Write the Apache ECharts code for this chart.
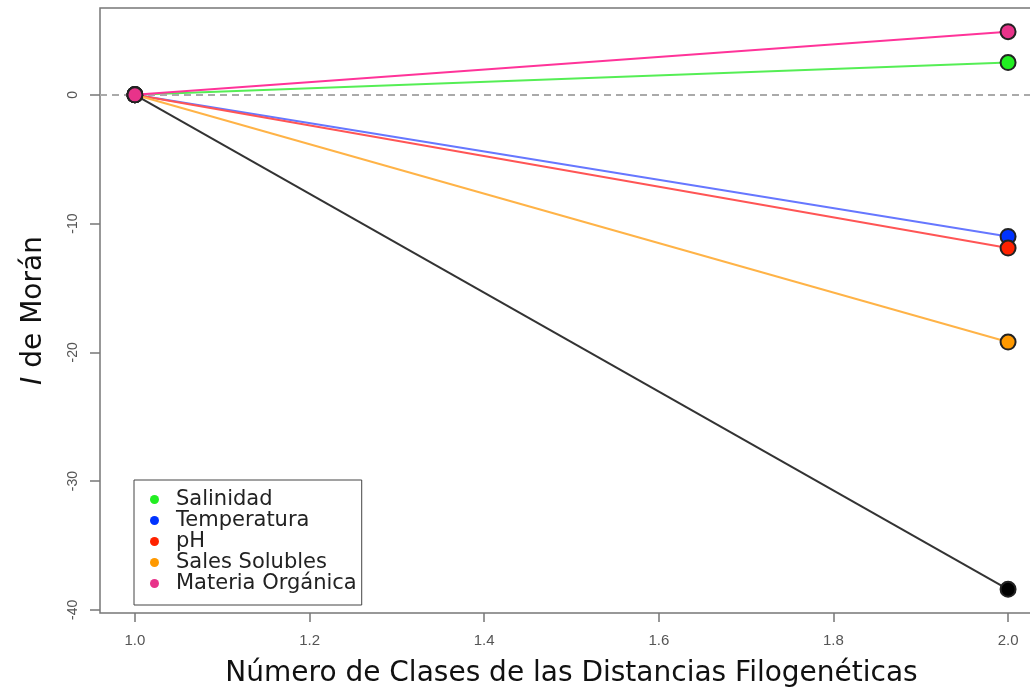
<!DOCTYPE html>
<html>
<head>
<meta charset="utf-8">
<script src="https://cdn.jsdelivr.net/npm/echarts@6/dist/echarts.min.js"></script>
<style>
  html, body { margin: 0; padding: 0; background: #fff; }
  #chart { width: 1030px; height: 692px; }
</style>
</head>
<body>
<div id="chart"></div>
<script>
// Distance classes on the x axis
const classes = [1.0, 2.0];

// Moran's I per variable at each class
const salinidad = [0, 2.5];
const temperatura = [0, -11.0];
const ph = [0, -11.9];
const salesSolubles = [0, -19.2];
const materiaOrganica = [0, 4.9];
const conjunto = [0, -38.4];

// Tick positions
const xTicks = [1.0, 1.2, 1.4, 1.6, 1.8, 2.0];
const yTicks = [-40, -30, -20, -10, 0];

const variables = [
  { name: 'Salinidad', values: salinidad, line: '#55ee55', dot: '#22ee22' },
  { name: 'Temperatura', values: temperatura, line: '#6677ff', dot: '#0033ff' },
  { name: 'pH', values: ph, line: '#ff5555', dot: '#ff2200' },
  { name: 'Sales Solubles', values: salesSolubles, line: '#ffb347', dot: '#ff9900' },
  { name: 'Materia Orgánica', values: materiaOrganica, line: '#ff3399', dot: '#e8338a' }
];

const titleFont = 'DejaVu Sans, Verdana, sans-serif';
const tickFont = 'Liberation Sans, Arial, sans-serif';

function pairs(values) {
  return classes.map((c, i) => [c, values[i]]);
}

const series = [
  {
    name: 'Conjunto',
    type: 'line',
    data: pairs(conjunto),
    symbol: 'circle',
    symbolSize: 15,
    lineStyle: { color: '#333', width: 2 },
    itemStyle: { color: '#000', borderColor: '#222', borderWidth: 2 },
    z: 2,
    markLine: {
      silent: true,
      symbol: 'none',
      label: { show: false },
      lineStyle: { color: '#aaa', type: [7, 5], width: 2 },
      data: [{ yAxis: 0 }]
    }
  }
];

// later variables sit on top where all lines meet at the first class
variables.forEach((v, k) => {
  series.push({
    name: v.name,
    type: 'line',
    data: pairs(v.values),
    symbol: 'circle',
    symbolSize: 15,
    lineStyle: { color: v.line, width: 2 },
    itemStyle: { color: v.dot, borderColor: '#222', borderWidth: 2 },
    z: 3 + k
  });
});

const chart = echarts.init(document.getElementById('chart'), null, { renderer: 'canvas' });
chart.setOption({
  animation: false,
  backgroundColor: '#fff',
  grid: {
    left: 100, top: 8, width: 943, height: 605,
    outerBoundsMode: 'none',
    containLabel: false,
    show: true, borderColor: '#777', borderWidth: 1.5, backgroundColor: 'transparent'
  },
  xAxis: {
    type: 'value',
    min: 0.96, max: 2.04,
    name: 'Número de Clases de las Distancias Filogenéticas',
    nameLocation: 'middle',
    nameGap: 47,
    nameTextStyle: { fontFamily: titleFont, fontSize: 28, color: '#111' },
    axisLine: { show: false, onZero: false },
    splitLine: { show: false },
    axisTick: { show: true, length: 9, lineStyle: { color: '#777', width: 1.5 }, customValues: xTicks },
    axisLabel: {
      customValues: xTicks, margin: 20,
      fontFamily: tickFont, fontSize: 15, color: '#555',
      formatter: v => v.toFixed(1)
    }
  },
  yAxis: {
    type: 'value',
    min: -40.24, max: 6.74,
    name: '{i|I} de Morán',
    nameLocation: 'middle',
    nameGap: 52,
    nameTextStyle: {
      fontFamily: titleFont, fontSize: 28, color: '#111',
      rich: { i: { fontStyle: 'italic', fontFamily: titleFont, fontSize: 28, color: '#111' } }
    },
    axisLine: { show: false, onZero: false },
    splitLine: { show: false },
    axisTick: { show: true, length: 10, lineStyle: { color: '#777', width: 1.5 }, customValues: yTicks },
    axisLabel: {
      customValues: yTicks, rotate: 90, margin: 20,
      fontFamily: tickFont, fontSize: 14, color: '#555'
    }
  },
  legend: {
    data: variables.map(v => ({ name: v.name, itemStyle: { color: v.dot, borderWidth: 0 } })),
    orient: 'vertical',
    left: 134, top: 480,
    icon: 'circle',
    itemWidth: 9, itemHeight: 9,
    itemGap: 0,
    padding: [9, 5, 11, 16],
    borderColor: '#444', borderWidth: 1,
    backgroundColor: '#fff',
    selectedMode: false,
    inactiveColor: '#000',
    textStyle: {
      fontFamily: titleFont, fontSize: 21, color: '#222',
      lineHeight: 20, padding: [0, 0, 0, 12]
    }
  },
  series: series
});
</script>
</body>
</html>
